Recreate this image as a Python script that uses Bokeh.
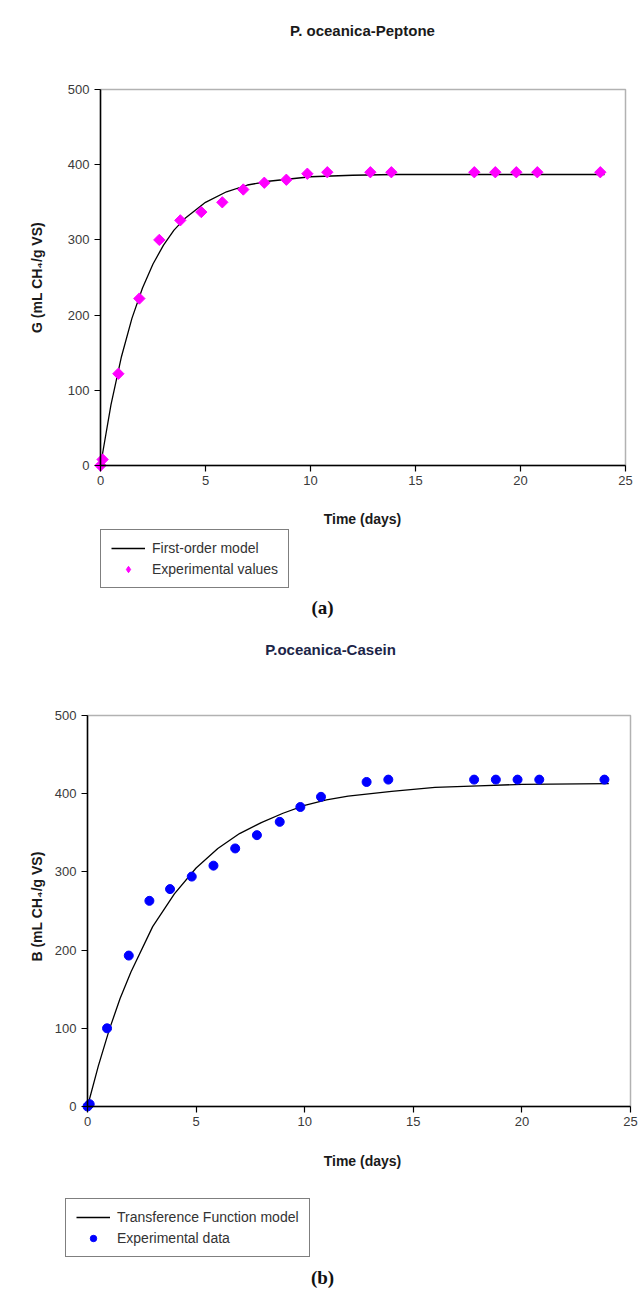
import math
from bokeh.plotting import figure
from bokeh.models import Legend, LegendItem, Label, BoxAnnotation
from bokeh.layouts import column
from bokeh.embed import file_html
from bokeh.resources import INLINE

# ---------------- data ----------------
# Panel (a): P. oceanica - Peptone
a_days = [0, 0.1, 0.85, 1.85, 2.8, 3.8, 4.8, 5.8, 6.8, 7.8, 8.85, 9.85, 10.8,
          12.85, 13.85, 17.8, 18.8, 19.8, 20.8, 23.8]
a_vals = [0, 8, 122, 222, 300, 326, 337, 350, 367, 376, 380, 388, 390,
          390, 390, 390, 390, 390, 390, 390]
a_model_t = [0, 0.5, 1, 1.5, 2, 2.5, 3, 3.5, 4, 5, 6, 7, 8, 9, 10, 12, 14, 18, 24]
a_model_g = [0, 81, 145, 196, 236, 268, 293, 313, 328, 350, 364, 373, 378, 381,
             384, 386, 387, 387, 387]

# Panel (b): P. oceanica - Casein
b_days = [0, 0.1, 0.9, 1.9, 2.85, 3.8, 4.8, 5.8, 6.8, 7.8, 8.85, 9.8, 10.75,
          12.85, 13.85, 17.8, 18.8, 19.8, 20.8, 23.8]
b_vals = [0, 3, 100, 193, 263, 278, 294, 308, 330, 347, 364, 383, 396,
          415, 418, 418, 418, 418, 418, 418]
b_model_t = [0, 0.5, 1, 1.5, 2, 3, 4, 5, 6, 7, 8, 9, 10, 11, 12, 14, 16, 18, 20, 24]
b_model_b = [0, 52, 98, 138, 172, 230, 272, 305, 330, 349, 363, 375, 385, 392,
             397, 403, 408, 410, 412, 413]

x_ticks = [0, 5, 10, 15, 20, 25]
y_ticks = [0, 100, 200, 300, 400, 500]
X_MAX, Y_MAX = 25, 500

FONT = "Liberation Sans"
W = 640


def panel(height, px_left, px_right, px_top, px_bottom):
    """Figure whose frame covers the whole canvas; the plotting box
    (0..25, 0..500) sits at the given pixel edges."""
    kx = (px_right - px_left) / X_MAX
    ky = (px_bottom - px_top) / Y_MAX
    x_range = (-px_left / kx, (W - px_left) / kx)
    y_range = (-(height - px_bottom) / ky, Y_MAX + px_top / ky)
    p = figure(width=W, height=height, x_range=x_range, y_range=y_range,
               output_backend="svg", toolbar_location=None, min_border=0)
    p.xgrid.visible = False
    p.ygrid.visible = False
    p.outline_line_color = None
    p.background_fill_color = "white"
    p.border_fill_color = "white"
    p.xaxis.ticker = x_ticks
    p.yaxis.ticker = y_ticks
    p.xaxis.fixed_location = 0
    p.yaxis.fixed_location = 0
    p.xaxis.bounds = (0, X_MAX)
    p.yaxis.bounds = (0, Y_MAX)
    for ax in (p.xaxis, p.yaxis):
        ax.axis_line_color = "black"
        ax.axis_line_width = 1.5
        ax.major_tick_line_color = "black"
        ax.major_tick_line_width = 1.2
        ax.major_tick_out = 6
        ax.major_tick_in = 0
        ax.minor_tick_line_color = None
        ax.major_label_text_font = FONT
        ax.major_label_text_font_size = "13px"
        ax.major_label_text_color = "#3a3a3a"
    p.xaxis.major_label_standoff = 4
    p.yaxis.major_label_standoff = 5
    p.add_layout(BoxAnnotation(left=0, right=X_MAX, bottom=0, top=Y_MAX,
                               fill_alpha=0, line_color="black", line_width=1.5))
    return p


def text(p, height, x, y_from_top, s, size, style="bold", font=FONT,
         color="#1a1a1a", angle=0.0):
    p.add_layout(Label(x=x, y=height - y_from_top, x_units="screen",
                       y_units="screen", text=s, text_align="center",
                       text_baseline="middle", text_font=font,
                       text_font_size=size, text_font_style=style,
                       text_color=color, angle=angle))


def style_legend(leg):
    leg.border_line_color = "black"
    leg.border_line_width = 1.5
    leg.background_fill_color = "white"
    leg.background_fill_alpha = 1.0
    leg.label_text_font = FONT
    leg.label_text_font_size = "14px"
    leg.label_text_color = "#333333"
    leg.glyph_width = 34
    leg.glyph_height = 16
    leg.label_height = 16
    leg.label_standoff = 7
    leg.spacing = 5
    leg.padding = 10
    leg.margin = 0


# ---------------- panel (a) ----------------
HA = 634
pa = panel(HA, 100, 625, 89, 465)
la = pa.line(a_model_t, a_model_g, line_color="black", line_width=1.3)
sa = pa.scatter(a_days, a_vals, marker="square", angle=math.pi / 4, size=8,
                fill_color="#ff00ff", line_color="#ff00ff")
# diamond swatch for the legend (drawn on the series' first point)
sa_key = pa.scatter(a_days[:1], a_vals[:1], marker="diamond", size=11,
                    fill_color="#ff00ff", line_color="#ff00ff")
leg_a = Legend(items=[LegendItem(label="First-order model", renderers=[la]),
                      LegendItem(label="Experimental values", renderers=[sa_key])],
               location=(100, HA - 588))
style_legend(leg_a)
pa.add_layout(leg_a)
text(pa, HA, 362, 30, "P. oceanica-Peptone", "15px")
text(pa, HA, 362, 518, "Time (days)", "14px")
text(pa, HA, 36, 277, "G (mL CH\u2084/g VS)", "14px", angle=math.pi / 2)
text(pa, HA, 322, 607, "(a)", "19px", font="Liberation Serif", color="#111111")

# ---------------- panel (b) ----------------
HB = 658
TOP_B = HA
pb = panel(HB, 87, 630, 715 - TOP_B, 1106 - TOP_B)
lb = pb.line(b_model_t, b_model_b, line_color="black", line_width=1.3)
sb = pb.scatter(b_days, b_vals, marker="circle", size=9,
                fill_color="#0000ff", line_color="#0000ff")
leg_b = Legend(items=[LegendItem(label="Transference Function model", renderers=[lb]),
                      LegendItem(label="Experimental data", renderers=[sb])],
               location=(65, HB - (1257 - TOP_B)))
style_legend(leg_b)
pb.add_layout(leg_b)
text(pb, HB, 330, 649 - TOP_B, "P.oceanica-Casein", "15px", color="#1c2548")
text(pb, HB, 362, 1160 - TOP_B, "Time (days)", "14px")
text(pb, HB, 36, 906 - TOP_B, "B (mL CH\u2084/g VS)", "14px", angle=math.pi / 2)
text(pb, HB, 322, 1277 - TOP_B, "(b)", "19px", font="Liberation Serif", color="#111111")

layout = column(pa, pb, spacing=0)
open("out.html", "w").write(file_html(layout, INLINE))
